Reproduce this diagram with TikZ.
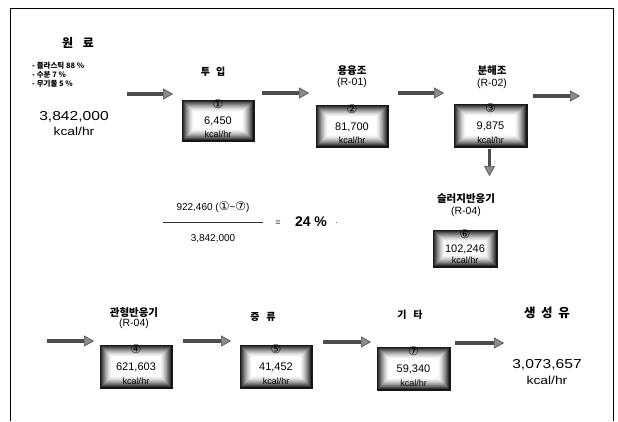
\documentclass[tikz,border=0pt]{standalone}
\usepackage{fontspec}
\setmainfont{Liberation Sans}
\newfontfamily\kr{Noto Sans CJK KR}
\newfontfamily\circfont{DejaVu Sans}
\newfontfamily\widef[FakeStretch=1.2]{Liberation Sans}
\usetikzlibrary{arrows.meta}
\tikzset{
  hbox/.style={rectangle, minimum width=72pt, minimum height=42pt, inner sep=0pt,
    draw=black!90, line width=0.8pt,
    path picture={
      \foreach \i in {0,...,12}{
        \pgfmathtruncatemacro\cc{92*(1-\i/12)^1.5}
        \fill[black!\cc] ([shift={(\i*1.0pt,\i*1.0pt)}]path picture bounding box.south west)
          rectangle ([shift={(-\i*1.0pt,-\i*1.0pt)}]path picture bounding box.north east);
      }}},
  cnum/.style={font=\circfont\fontsize{12}{12}\selectfont, inner sep=0pt},
  bval/.style={font=\fontsize{11}{11}\selectfont, inner sep=0pt},
  bunit/.style={font=\fontsize{9}{9}\selectfont, inner sep=0pt},
  klabel/.style={font=\kr\bfseries\fontsize{10.5}{10.5}\selectfont, inner sep=0pt},
  slabel/.style={font=\kr\bfseries\fontsize{10}{10}\selectfont, inner sep=0pt},
  rlabel/.style={font=\fontsize{10.5}{10.5}\selectfont, inner sep=0pt},
  bigval/.style={font=\widef\fontsize{13}{13}\selectfont, inner sep=0pt},
  bigunit/.style={font=\widef\fontsize{11.5}{11.5}\selectfont, inner sep=0pt},
  flowarr/.style={draw=black!70, line width=3.4pt,
    -{Triangle[length=10pt,width=11pt,line width=0.6pt,fill=black!45]}},
}
\begin{document}
\begin{tikzpicture}[x=1pt,y=-1pt]
\useasboundingbox (0,0) rectangle (618,421);
% frame
\draw[line width=0.8pt] (10,421) -- (10,8) -- (613,8) -- (613,421);

% raw material
\node[font=\kr\bfseries\fontsize{12}{12}\selectfont, inner sep=0pt] (raw) at (78,43) {원\hspace{0.8em}료};
\node[font=\kr\bfseries\fontsize{7.5}{7.5}\selectfont, inner sep=0pt, anchor=west] (l1) at (32,66) {- 플라스틱 88 \%};
\node[font=\kr\bfseries\fontsize{7.5}{7.5}\selectfont, inner sep=0pt, anchor=west] (l2) at (32,75) {- 수분 7 \%};
\node[font=\kr\bfseries\fontsize{7.5}{7.5}\selectfont, inner sep=0pt, anchor=west] (l3) at (32,84) {- 무기물 5 \%};
\node[bigval] (rawv) at (74,117) {3,842,000};
\node[bigunit] (rawu) at (74,131) {kcal/hr};

% top row boxes
\node[hbox, minimum width=72pt, minimum height=41pt] (b1) at (218,120.5) {};
\node[hbox, minimum width=72pt, minimum height=42pt] (b2) at (352,126) {};
\node[hbox, minimum width=73pt, minimum height=43pt] (b3) at (490.5,125.5) {};
\node[hbox, minimum width=64pt, minimum height=37pt] (b5) at (465,248.5) {};
% bottom row boxes
\node[hbox, minimum width=72pt, minimum height=43pt] (b4) at (136,366.5) {};
\node[hbox, minimum width=72pt, minimum height=43pt] (b6) at (276,366.5) {};
\node[hbox, minimum width=73pt, minimum height=43pt] (b7) at (413.5,368.5) {};

% box contents
\foreach \b/\n/\v in {b1/①/{6,450}, b2/②/{81,700}, b3/③/{9,875}, b5/⑥/{102,246}, b4/④/{621,603}, b6/⑤/{41,452}, b7/⑦/{59,340}}{
  \node[cnum] (\b n) at ([yshift=-5pt]\b.north) {\n};
  \node[bval] (\b v) at ([yshift=-1pt]\b.center) {\v};
  \node[bunit] (\b u) at ([yshift=7.5pt]\b.south) {kcal/hr};
}

% labels
\node[slabel] (t1) at (213,72) {투\hspace{0.6em}입};
\node[klabel] (t2) at (352,71) {용융조};
\node[rlabel] (t2r) at (352,83) {(R-01)};
\node[klabel] (t3) at (492,71) {분해조};
\node[rlabel] (t3r) at (492,84) {(R-02)};
\node[klabel] (t5) at (466,199) {슬러지반응기};
\node[rlabel] (t5r) at (466,212) {(R-04)};
\node[klabel] (t4) at (134,313) {관형반응기};
\node[rlabel] (t4r) at (134,324) {(R-04)};
\node[slabel] (t6) at (263,317) {증\hspace{0.7em}류};
\node[slabel] (t7) at (410,315) {기\hspace{0.7em}타};
\node[font=\kr\bfseries\fontsize{12.5}{12.5}\selectfont, inner sep=0pt] (prod) at (547,313) {생\hspace{0.45em}성\hspace{0.45em}유};
\node[bigval] (prodv) at (547,365) {3,073,657};
\node[bigunit] (produ) at (547,380) {kcal/hr};

% fraction
\node[font=\fontsize{10}{10}\selectfont, inner sep=0pt] (fnum) at (213,207) {922,460 ({\circfont\fontsize{12}{12}\selectfont ①}\textasciitilde{\circfont\fontsize{12}{12}\selectfont ⑦})};
\coordinate (fl) at (163,222);
\coordinate (fr) at (263,222);
\draw[line width=0.7pt, black!80] (fl) -- (fr);
\node[font=\fontsize{10}{10}\selectfont, inner sep=0pt] (fden) at (213,239) {3,842,000};
\node[font=\fontsize{9}{9}\selectfont, inner sep=0pt] (feq) at (278,223) {=};
\node[font=\bfseries\fontsize{14}{14}\selectfont, inner sep=0pt] (fres) at (311,222) {24 \%};
\node[font=\fontsize{8}{8}\selectfont, inner sep=0pt] (fdot) at (337,223) {.};

% arrows
\coordinate (a1s) at (127,94);  \coordinate (a1e) at (173,94);
\coordinate (a2s) at (262,93);  \coordinate (a2e) at (309,93);
\coordinate (a3s) at (398,93);  \coordinate (a3e) at (444,93);
\coordinate (a4s) at (533,96);  \coordinate (a4e) at (580,96);
\coordinate (dds) at (489.5,149); \coordinate (dde) at (489.5,176);
\coordinate (a5s) at (47,341);  \coordinate (a5e) at (94,341);
\coordinate (a6s) at (183,341); \coordinate (a6e) at (231,341);
\coordinate (a7s) at (323,342); \coordinate (a7e) at (371,342);
\coordinate (a8s) at (455,343); \coordinate (a8e) at (504,343);
\foreach \s/\e in {a1s/a1e, a2s/a2e, a3s/a3e, a4s/a4e, dds/dde, a5s/a5e, a6s/a6e, a7s/a7e, a8s/a8e}{
  \draw[flowarr] (\s) -- (\e);
}
\end{tikzpicture}
\end{document}
